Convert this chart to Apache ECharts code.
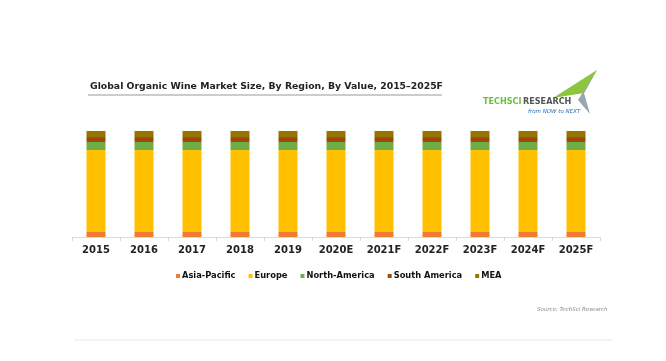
<!DOCTYPE html>
<html><head><meta charset="utf-8">
<script src="https://cdn.jsdelivr.net/npm/echarts@6/dist/echarts.min.js"></script>
<style>html,body{margin:0;padding:0;background:#fff}#c{width:666px;height:361px}</style>
</head><body><div id="c"></div>
<script>
const categories = ['2015','2016','2017','2018','2019','2020E','2021F','2022F','2023F','2024F','2025F'];
const asiaPacific = [4.7,4.7,4.7,4.7,4.7,4.7,4.7,4.7,4.7,4.7,4.7];
const europe = [77.4,77.4,77.4,77.4,77.4,77.4,77.4,77.4,77.4,77.4,77.4];
const northAmerica = [7.5,7.5,7.5,7.5,7.5,7.5,7.5,7.5,7.5,7.5,7.5];
const southAmerica = [4.7,4.7,4.7,4.7,4.7,4.7,4.7,4.7,4.7,4.7,4.7];
const mea = [5.7,5.7,5.7,5.7,5.7,5.7,5.7,5.7,5.7,5.7,5.7];
const seriesNames = ['Asia-Pacific','Europe','North-America','South America','MEA'];
const colors = ['#ED7D31','#FFC000','#70AD47','#9E480E','#997300'];
const dataSets = [asiaPacific, europe, northAmerica, southAmerica, mea];

const chart = echarts.init(document.getElementById('c'), null, {renderer:'canvas'});
const font = 'DejaVu Sans';
chart.setOption({
  animation:false,
  backgroundColor:'#fff',
  color: colors,
  grid:{left:72,right:66,top:131,bottom:124},
  legend:{
    data: seriesNames, left:171, top:267, itemWidth:4, itemHeight:4, itemGap:13,
    icon:'rect',
    textStyle:{fontFamily:font,fontWeight:'bold',fontSize:8.3,color:'#111', padding:[0,0,0,-3]}
  },
  xAxis:{
    type:'category', data:categories, boundaryGap:true,
    axisLine:{lineStyle:{color:'#d9d9d9'}},
    axisTick:{show:true,length:4,lineStyle:{color:'#d9d9d9'}},
    axisLabel:{fontFamily:font,fontWeight:'bold',fontSize:10,color:'#222',margin:8}
  },
  yAxis:{type:'value',min:0,max:100,show:false,splitLine:{show:false}},
  series: dataSets.map((d,i)=>({
    name: seriesNames[i], type:'bar', stack:'total', data:d, barWidth:19,
    itemStyle:{color:colors[i]}
  })),
  graphic:[
    {type:'text', left:90, top:82, style:{text:'Global Organic Wine Market Size, By Region, By Value, 2015–2025F', font:'bold 9.3px "DejaVu Sans"', fill:'#222'}},
    {type:'line', shape:{x1:88,y1:95,x2:442,y2:95}, style:{stroke:'#999',lineWidth:1}},
    {type:'polygon', shape:{points:[[597,70],[553,98],[584,93]]}, style:{fill:'#8CC63F'}},
    {type:'polygon', shape:{points:[[597,70],[584,93],[590,114],[578,100]]}, style:{fill:'#9aa5ad'}},
    {type:'text', left:483, top:97, style:{text:'TECHSCI', font:'bold 9px "DejaVu Sans Condensed"', fill:'#6DBE45'}},
    {type:'text', left:523, top:97, style:{text:'RESEARCH', font:'bold 9px "DejaVu Sans Condensed"', fill:'#555'}},
    {type:'text', left:528, top:109, style:{text:'from NOW to NEXT', font:'italic 5.5px "DejaVu Sans"', fill:'#1f6fb5'}},
    {type:'text', left:537, top:307, style:{text:'Source: TechSci Research', font:'italic 5.5px "DejaVu Sans"', fill:'#888'}},
    {type:'line', shape:{x1:74,y1:340,x2:612,y2:340}, style:{stroke:'#e6e6e6',lineWidth:1}}
  ]
});
</script></body></html>
